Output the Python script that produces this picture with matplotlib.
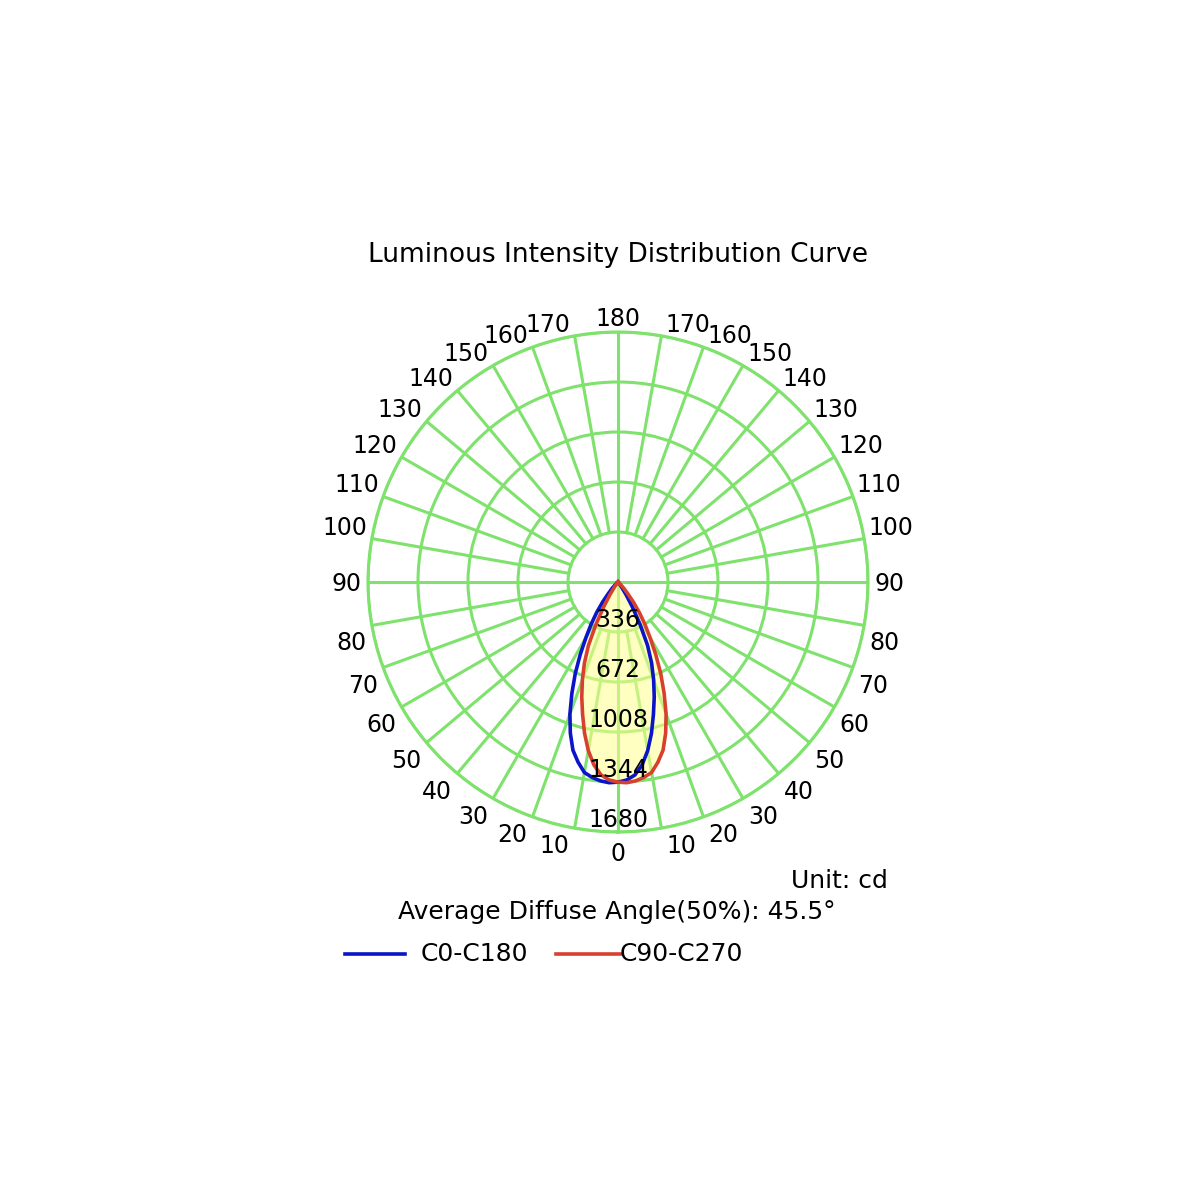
import numpy as np
import matplotlib
matplotlib.use("Agg")
import matplotlib.pyplot as plt

# ---- data ----
gamma = [0, 2.5, 5, 7.5, 10, 12.5, 15, 17.5, 20, 22.5, 25, 27.5, 30, 32.5, 35, 37.5, 40, 42.5, 45, 50, 55, 90]
# wide half (C0 side of blue / C270 side of red) and narrow half (cd)
wide = [1345, 1350, 1342, 1325, 1300, 1240, 1170, 1065, 945, 810, 680, 550, 430, 335, 250, 170, 100, 60, 30, 5, 0, 0]
narrow = [1345, 1332, 1302, 1240, 1150, 1040, 920, 810, 700, 590, 470, 320, 190, 100, 40, 15, 5, 0, 0, 0, 0, 0]
ring_values = [336, 672, 1008, 1344, 1680]
angle_labels = [0, 10, 20, 30, 40, 50, 60, 70, 80, 90, 100, 110, 120, 130, 140, 150, 160, 170, 180]
series_names = ["C0-C180", "C90-C270"]
title = "Luminous Intensity Distribution Curve"
unit_text = "Unit: cd"
angle_text = "Average Diffuse Angle(50%): 45.5°"

GREEN = "#7ee26c"
BLUE = "#0a14c8"
RED = "#d8402e"
FILL = "#ffff90"

fig = plt.figure(figsize=(12, 12), dpi=100)
ax = fig.add_axes([368/1200, 368/1200, 500/1200, 500/1200], projection="polar")
ax.set_theta_zero_location("S")
ax.set_theta_direction(-1)
ax.set_ylim(0, ring_values[-1])
ax.set_xticks([])
ax.set_yticks(ring_values)
ax.set_yticklabels([])
ax.grid(True, color=GREEN, lw=2.2)
ax.spines["polar"].set_color(GREEN)
ax.spines["polar"].set_linewidth(2.2)
ax.set_facecolor("white")

rmin = ring_values[0]
rmax = ring_values[-1]
# radial grid lines every 10 degrees
for a in range(0, 360, 10):
    t = np.deg2rad(a)
    if a % 90 == 0:
        ax.plot([t, t], [0, rmax], color=GREEN, lw=2.2, zorder=1)
    else:
        ax.plot([t, t], [rmin, rmax], color=GREEN, lw=2.2, zorder=1)

g = np.deg2rad(np.array(gamma, dtype=float))
w = np.array(wide, dtype=float)
n = np.array(narrow, dtype=float)

# blue: left side (positive theta) wide, right side narrow
theta_blue = np.concatenate([-g[::-1], g[1:]])
r_blue = np.concatenate([n[::-1], w[1:]])
# red: left narrow, right wide
theta_red = np.concatenate([-g[::-1], g[1:]])
r_red = np.concatenate([w[::-1], n[1:]])

ax.fill(theta_red, r_red, color=FILL, alpha=0.55, zorder=2, lw=0)
ax.plot(theta_blue, r_blue, color=BLUE, lw=2.6, zorder=4, solid_joinstyle="round")
ax.plot(theta_red, r_red, color=RED, lw=2.6, zorder=5, solid_joinstyle="round")

FS = 17
# ring labels
for rv in ring_values:
    ax.text(0, rv - 82, str(rv), ha="center", va="center", fontsize=FS, color="black", zorder=6)

# angle labels
for a in angle_labels:
    for side in (1, -1):
        if side == -1 and a in (0, 180):
            continue
        t = np.deg2rad(a * side)
        if a == 0:
            ha, va, off = "center", "top", (0, -10)
        elif a == 180:
            ha, va, off = "center", "baseline", (0, 6)
        elif a == 90:
            ha = "right" if side == 1 else "left"
            va, off = "center", (-6 * side, -2)
        elif a < 90:
            ha = "right" if side == 1 else "left"
            va, off = "top", (-5 * side, -6)
        else:
            ha = "right" if side == 1 else "left"
            va, off = "baseline", (-4 * side, 4)
        ax.annotate(str(a), xy=(t, rmax), xytext=off, textcoords="offset pixels",
                    ha=ha, va=va, fontsize=FS, color="black", annotation_clip=False)

fig.text(618/1200, 1 - 255/1200, title, ha="center", va="center", fontsize=19)
fig.text(888/1200, 1 - 881/1200, unit_text, ha="right", va="center", fontsize=18)
fig.text(617/1200, 1 - 912/1200, angle_text, ha="center", va="center", fontsize=18)

# legend
lax = fig.add_axes([0, 0, 1, 1], facecolor="none")
lax.set_xlim(0, 1200)
lax.set_ylim(1200, 0)
lax.axis("off")
lax.plot([345, 405], [954, 954], color=BLUE, lw=2.6)
lax.text(421, 954, series_names[0], ha="left", va="center", fontsize=18)
lax.plot([556, 622], [954, 954], color=RED, lw=2.6)
lax.text(620, 954, series_names[1], ha="left", va="center", fontsize=18)

fig.savefig("out.png", dpi=100, facecolor="white")
